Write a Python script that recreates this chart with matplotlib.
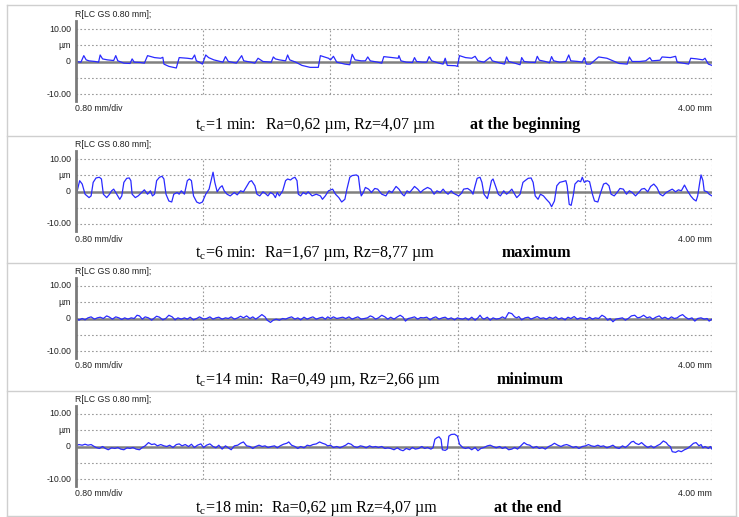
import matplotlib
matplotlib.use("Agg")
import matplotlib.pyplot as plt

plt.rcParams["mathtext.fontset"] = "custom"
plt.rcParams["mathtext.rm"] = "Liberation Serif"

# roughness profiles, position in mm / height in um
x1 = [0.000, 0.031, 0.049, 0.064, 0.082, 0.121, 0.142, 0.152, 0.167, 0.198, 0.237, 0.250, 0.263, 0.301,
      0.340, 0.353, 0.366, 0.404, 0.430, 0.450, 0.494, 0.533, 0.546, 0.553, 0.584, 0.631, 0.649, 0.700,
      0.731, 0.746, 0.757, 0.777, 0.795, 0.816, 0.834, 0.867, 0.924, 0.940, 0.958, 1.009, 1.042, 1.055,
      1.099, 1.125, 1.145, 1.176, 1.228, 1.241, 1.254, 1.279, 1.318, 1.331, 1.344, 1.382, 1.421, 1.472,
      1.524, 1.537, 1.562, 1.588, 1.601, 1.619, 1.640, 1.691, 1.722, 1.737, 1.755, 1.794, 1.820, 1.835,
      1.851, 1.897, 1.923, 1.936, 1.987, 2.026, 2.031, 2.044, 2.077, 2.116, 2.129, 2.142, 2.180, 2.206,
      2.221, 2.237, 2.283, 2.309, 2.322, 2.335, 2.386, 2.399, 2.412, 2.450, 2.489, 2.510, 2.528, 2.566,
      2.605, 2.618, 2.669, 2.695, 2.708, 2.721, 2.759, 2.793, 2.803, 2.818, 2.849, 2.888, 2.901, 2.914,
      2.952, 2.978, 2.991, 3.004, 3.042, 3.081, 3.099, 3.112, 3.158, 3.184, 3.197, 3.210, 3.235, 3.287,
      3.339, 3.377, 3.416, 3.467, 3.480, 3.498, 3.545, 3.583, 3.609, 3.622, 3.673, 3.686, 3.738, 3.771,
      3.781, 3.827, 3.853, 3.866, 3.905, 3.943, 3.956, 3.977, 4.000]
y1 = [0.0, -0.2, 1.8, 0.5, 0.2, 0.0, -0.2, 2.0, 0.8, 0.5, 0.3, 1.8, 0.2, -0.5,
      -0.6, 0.8, -0.2, -0.3, -0.5, 1.8, 1.2, 1.0, 1.3, -0.8, -1.5, -2.0, 1.2, 1.0,
      0.8, 2.0, 0.2, -0.2, -0.8, 2.0, 1.2, 0.5, -0.2, 1.5, 0.0, -0.5, 1.8, 0.2,
      -0.2, -0.5, 1.0, 0.0, -0.2, 1.4, 0.8, 0.5, 0.2, 2.0, 0.5, -0.2, -1.2, -1.8,
      -1.8, 1.8, 1.4, 1.0, 0.5, 1.6, -0.2, -0.8, -1.0, 2.2, 0.5, 0.2, 0.2, 1.4,
      0.2, -0.2, -0.5, 1.5, 1.2, 1.0, 1.8, 0.2, -0.2, -0.3, 1.2, 0.0, -0.2, -0.2,
      1.5, 0.2, -0.5, -0.8, 1.0, -1.2, -1.3, -1.5, 1.8, 1.2, 1.0, 1.6, 0.2, -0.2,
      1.3, 0.2, -0.5, -0.8, 1.4, 0.0, -0.5, -1.0, 1.2, 0.0, -0.2, -0.3, 1.6, 0.4,
      0.0, -0.4, 1.5, 0.2, -0.2, 0.0, 2.0, 0.2, 0.0, -0.2, 1.2, -0.8, -0.8, 1.4,
      1.0, 0.2, -0.6, -0.8, 1.4, 0.0, 0.0, 0.2, 1.2, 0.2, 0.4, 1.4, 1.2, 1.6,
      -0.2, -0.6, -0.8, 1.0, 0.8, 0.5, 1.0, -0.8, -1.2]

x2 = [0.000, 0.023, 0.039, 0.057, 0.082, 0.095, 0.108, 0.126, 0.147, 0.160, 0.172, 0.193, 0.211, 0.224,
      0.237, 0.250, 0.275, 0.288, 0.301, 0.319, 0.335, 0.345, 0.353, 0.373, 0.391, 0.417, 0.430, 0.450,
      0.468, 0.481, 0.494, 0.507, 0.525, 0.541, 0.553, 0.566, 0.584, 0.602, 0.615, 0.636, 0.649, 0.662,
      0.682, 0.700, 0.713, 0.726, 0.739, 0.759, 0.777, 0.795, 0.816, 0.837, 0.855, 0.862, 0.873, 0.888,
      0.906, 0.919, 0.932, 0.950, 0.970, 0.996, 1.014, 1.035, 1.053, 1.073, 1.091, 1.104, 1.125, 1.138,
      1.156, 1.176, 1.189, 1.207, 1.223, 1.241, 1.254, 1.266, 1.279, 1.300, 1.318, 1.331, 1.349, 1.362,
      1.377, 1.390, 1.398, 1.413, 1.429, 1.447, 1.460, 1.485, 1.511, 1.537, 1.550, 1.568, 1.588, 1.614,
      1.632, 1.653, 1.671, 1.691, 1.704, 1.722, 1.737, 1.763, 1.776, 1.786, 1.794, 1.807, 1.820, 1.840,
      1.858, 1.879, 1.897, 1.923, 1.949, 1.969, 1.987, 2.013, 2.031, 2.052, 2.064, 2.082, 2.098, 2.116,
      2.129, 2.149, 2.167, 2.185, 2.211, 2.232, 2.252, 2.270, 2.291, 2.309, 2.322, 2.340, 2.360, 2.373,
      2.386, 2.407, 2.425, 2.438, 2.463, 2.484, 2.497, 2.510, 2.523, 2.541, 2.553, 2.566, 2.587, 2.597,
      2.613, 2.623, 2.638, 2.656, 2.669, 2.690, 2.708, 2.721, 2.741, 2.759, 2.772, 2.793, 2.811, 2.824,
      2.844, 2.862, 2.875, 2.888, 2.906, 2.921, 2.940, 2.958, 2.978, 2.991, 3.009, 3.024, 3.042, 3.068,
      3.081, 3.089, 3.102, 3.114, 3.127, 3.138, 3.158, 3.174, 3.184, 3.197, 3.215, 3.230, 3.248, 3.261,
      3.282, 3.300, 3.318, 3.334, 3.352, 3.365, 3.385, 3.403, 3.421, 3.442, 3.462, 3.480, 3.498, 3.519,
      3.539, 3.557, 3.575, 3.596, 3.614, 3.634, 3.653, 3.673, 3.691, 3.712, 3.730, 3.750, 3.771, 3.789,
      3.807, 3.827, 3.846, 3.866, 3.884, 3.900, 3.910, 3.923, 3.931, 3.943, 3.951, 3.969, 3.982, 4.000]
y2 = [-1.35, 3.33, 2.29, -0.83, -1.88, -1.35, 2.81, 4.17, 4.38, 3.85, -0.83, -1.88, -0.83, 0.21,
      0.73, -0.31, -2.40, -1.35, 2.81, 4.06, 4.17, 3.33, -0.83, -1.88, -1.35, -0.10, 0.52, -0.83,
      0.21, -1.35, -0.83, 3.33, 4.38, 4.69, 3.85, -0.83, -2.92, -3.23, -0.83, -0.31, -0.83, 0.21,
      -0.83, 3.33, 3.85, 3.33, -1.35, -3.23, -3.65, -3.23, -0.83, 0.73, 4.38, 5.94, 2.81, -0.10,
      1.25, 1.77, 0.21, -0.83, -1.35, -0.31, -1.04, 0.21, -0.10, 1.56, 3.02, 3.33, 1.77, -0.83,
      -1.35, -0.10, -0.52, -1.35, -0.31, -0.83, -1.88, -0.31, -1.35, 0.21, 3.33, 3.85, 3.54, 4.06,
      4.38, 3.33, -0.83, -1.35, -0.31, -0.83, -0.10, -1.35, -0.83, -1.35, -2.40, -1.35, 0.21, 0.73,
      -0.83, -1.88, -3.23, -2.40, 0.73, 4.38, 4.90, 5.10, 4.69, 0.73, -1.35, -0.31, 1.25, 0.73,
      -0.31, 0.94, 0.73, -0.83, -1.35, 0.21, -0.31, 1.56, 0.73, -0.83, -1.35, 0.21, -0.31, 0.73,
      1.56, 0.73, -0.31, 0.52, 1.25, 0.73, -0.83, 0.21, -0.31, 0.73, -0.10, -0.83, 0.21, -0.52,
      -0.83, -1.35, -0.52, 0.73, 0.94, 0.21, -0.83, 1.77, 4.06, 4.38, 2.81, -0.83, -2.19, -0.31,
      3.33, 3.85, 1.77, -0.83, -1.35, 0.21, -0.83, -0.31, 0.73, -0.83, -1.88, -0.83, 2.81, 3.33,
      4.06, 4.17, 2.81, -1.35, -2.40, -0.83, -1.35, -2.40, -3.44, -4.69, -2.92, 1.77, 2.81, 3.13,
      3.33, 1.77, -3.96, -4.27, -1.35, 2.29, 3.33, 3.02, 4.38, 2.81, 3.33, 3.02, -0.83, -2.92,
      -3.23, -0.31, 2.29, 2.60, 1.77, -0.83, -1.35, -0.31, 0.94, 0.73, -0.83, 0.21, -0.31, -1.35,
      -0.31, 0.73, 0.94, -0.10, 1.56, 2.29, 1.25, -0.83, -1.35, -0.31, 0.21, 0.73, -0.10, 0.52,
      0.21, 1.98, 0.21, -1.35, -2.40, -2.92, -1.35, 2.81, 5.10, 3.33, 0.21, -0.10, -0.83, -1.35]

x3 = [0.000, 0.018, 0.039, 0.057, 0.075, 0.095, 0.116, 0.134, 0.152, 0.172, 0.193, 0.211, 0.229, 0.250,
      0.270, 0.288, 0.306, 0.327, 0.347, 0.366, 0.384, 0.399, 0.417, 0.435, 0.456, 0.476, 0.494, 0.507,
      0.525, 0.546, 0.564, 0.584, 0.605, 0.623, 0.641, 0.662, 0.682, 0.700, 0.718, 0.739, 0.759, 0.777,
      0.803, 0.821, 0.842, 0.862, 0.880, 0.898, 0.919, 0.940, 0.958, 0.976, 0.996, 1.017, 1.035, 1.053,
      1.073, 1.094, 1.112, 1.130, 1.151, 1.169, 1.189, 1.202, 1.223, 1.241, 1.259, 1.279, 1.300, 1.318,
      1.336, 1.356, 1.377, 1.395, 1.413, 1.434, 1.454, 1.472, 1.490, 1.511, 1.532, 1.550, 1.568, 1.583,
      1.601, 1.619, 1.640, 1.660, 1.678, 1.696, 1.717, 1.737, 1.755, 1.773, 1.794, 1.815, 1.833, 1.851,
      1.866, 1.884, 1.902, 1.923, 1.943, 1.961, 1.979, 2.000, 2.021, 2.039, 2.057, 2.072, 2.090, 2.108,
      2.129, 2.149, 2.167, 2.185, 2.206, 2.227, 2.245, 2.263, 2.283, 2.304, 2.322, 2.340, 2.360, 2.381,
      2.399, 2.412, 2.432, 2.450, 2.468, 2.489, 2.510, 2.528, 2.541, 2.553, 2.566, 2.587, 2.605, 2.623,
      2.643, 2.664, 2.682, 2.700, 2.721, 2.741, 2.759, 2.772, 2.785, 2.803, 2.824, 2.844, 2.862, 2.880,
      2.901, 2.921, 2.940, 2.958, 2.978, 2.999, 3.017, 3.035, 3.055, 3.076, 3.094, 3.112, 3.133, 3.153,
      3.171, 3.189, 3.210, 3.230, 3.248, 3.266, 3.287, 3.308, 3.326, 3.344, 3.359, 3.377, 3.395, 3.416,
      3.437, 3.455, 3.473, 3.493, 3.514, 3.532, 3.550, 3.570, 3.591, 3.609, 3.627, 3.647, 3.668, 3.686,
      3.704, 3.725, 3.745, 3.763, 3.781, 3.797, 3.815, 3.833, 3.853, 3.874, 3.892, 3.910, 3.931, 3.951,
      3.969, 3.982, 4.000]
y3 = [0.2, -0.5, 0.0, -0.4, 0.2, 0.5, -0.2, 0.2, 0.4, 0.0, 0.8, 0.4, -0.2, 0.5,
      0.2, -0.3, 0.2, -0.2, 0.2, 0.0, 1.0, 0.8, -0.2, 0.5, 0.2, -0.5, 0.2, 0.7,
      0.4, -0.4, 0.0, 1.0, 0.5, -0.4, 0.2, -0.2, 0.2, -0.2, 0.4, -0.4, 0.0, 0.5,
      -0.2, 0.0, 0.5, -0.2, 0.2, 0.4, -0.2, 0.2, 0.0, 0.5, -0.2, 0.2, 0.7, 0.2,
      0.8, 0.0, 0.5, -0.2, 0.5, 1.2, 0.5, -0.5, -1.2, -0.5, -0.2, -0.5, 0.0, -0.2,
      0.2, 0.5, -0.2, 0.2, -0.4, 0.4, -0.2, 0.2, 0.5, -0.2, 0.2, 0.4, -0.2, 0.5,
      0.0, 0.5, 0.0, 0.2, 0.4, 0.0, 0.5, -0.2, 0.2, 0.5, -0.2, 0.0, 0.2, 0.8,
      0.5, -0.2, 0.2, 1.0, 0.5, -0.2, 0.4, -0.2, 0.5, 1.0, 0.4, -0.8, 0.0, 0.2,
      0.5, -0.2, 0.3, 0.2, 0.4, -0.4, 0.2, 0.5, -0.2, 0.2, 0.4, -0.2, 0.2, -0.4,
      0.2, 0.0, -0.2, 0.2, -0.4, 0.4, -0.5, 0.2, 1.0, 0.2, -0.2, 0.4, -0.5, 0.2,
      -0.2, 0.0, 0.5, 0.0, 1.8, 1.5, 0.5, 0.2, 0.6, -0.4, 0.2, 0.4, -0.2, 0.2,
      0.6, 0.0, 0.2, -0.2, 0.4, 0.0, 0.5, -0.2, 0.2, -0.4, 0.4, 0.0, 0.6, -0.2,
      0.2, 0.0, -0.2, 0.4, -0.2, 0.2, 0.0, 1.0, 0.5, -0.5, 0.0, -1.0, -0.2, 0.0,
      0.2, -0.5, 0.0, 0.8, 1.0, 0.2, 0.4, 1.0, 0.2, 0.5, -0.2, 0.4, 0.8, 0.0,
      0.4, -0.2, 0.5, 0.0, 0.2, 0.8, 1.2, 0.4, -0.2, 0.2, -0.8, 0.0, 0.2, -0.2,
      0.0, -0.8, -0.2]

x4 = [0.000, 0.018, 0.039, 0.057, 0.075, 0.095, 0.108, 0.126, 0.147, 0.167, 0.185, 0.203, 0.224, 0.245,
      0.263, 0.281, 0.301, 0.322, 0.340, 0.358, 0.378, 0.399, 0.417, 0.435, 0.456, 0.476, 0.494, 0.512,
      0.533, 0.553, 0.571, 0.589, 0.610, 0.631, 0.649, 0.667, 0.687, 0.708, 0.726, 0.744, 0.764, 0.785,
      0.803, 0.821, 0.842, 0.862, 0.880, 0.898, 0.919, 0.940, 0.958, 0.976, 0.996, 1.017, 1.035, 1.053,
      1.073, 1.094, 1.112, 1.130, 1.151, 1.171, 1.189, 1.207, 1.228, 1.249, 1.266, 1.284, 1.305, 1.326,
      1.338, 1.356, 1.377, 1.395, 1.413, 1.434, 1.454, 1.472, 1.490, 1.511, 1.532, 1.550, 1.568, 1.583,
      1.601, 1.619, 1.640, 1.660, 1.678, 1.696, 1.712, 1.730, 1.748, 1.768, 1.789, 1.807, 1.825, 1.846,
      1.866, 1.884, 1.902, 1.923, 1.943, 1.961, 1.979, 2.000, 2.021, 2.039, 2.057, 2.077, 2.098, 2.116,
      2.134, 2.155, 2.175, 2.193, 2.211, 2.232, 2.245, 2.257, 2.270, 2.283, 2.296, 2.304, 2.322, 2.335,
      2.345, 2.360, 2.381, 2.399, 2.412, 2.432, 2.450, 2.468, 2.489, 2.510, 2.528, 2.546, 2.566, 2.587,
      2.605, 2.623, 2.643, 2.664, 2.682, 2.700, 2.721, 2.741, 2.759, 2.777, 2.798, 2.818, 2.836, 2.854,
      2.875, 2.896, 2.914, 2.932, 2.952, 2.973, 2.991, 3.009, 3.030, 3.050, 3.068, 3.086, 3.107, 3.127,
      3.145, 3.163, 3.184, 3.205, 3.223, 3.241, 3.261, 3.282, 3.300, 3.318, 3.339, 3.359, 3.377, 3.395,
      3.416, 3.437, 3.455, 3.473, 3.493, 3.506, 3.519, 3.539, 3.557, 3.575, 3.596, 3.617, 3.634, 3.653,
      3.673, 3.694, 3.712, 3.725, 3.738, 3.750, 3.771, 3.789, 3.807, 3.827, 3.846, 3.866, 3.884, 3.900,
      3.918, 3.931, 3.943, 3.956, 3.977, 3.990, 4.000]
y4 = [0.2, 0.6, 0.4, 0.7, 0.4, 0.6, 0.2, -0.3, -0.6, 0.0, -0.6, -1.0, -0.4, -0.6,
      -0.3, -0.8, -1.0, -0.4, -0.6, -0.3, -0.8, -1.0, -0.3, 0.2, 1.2, 0.6, 0.8, 0.2,
      0.6, 0.2, 0.0, 0.4, -0.3, 0.6, 0.8, 0.2, 0.6, 0.0, 0.7, -0.3, 0.4, 0.8,
      -0.3, 0.4, 0.8, 0.0, -0.4, 0.4, -0.8, 0.2, -0.4, -1.0, 0.2, 0.4, 1.0, 1.4,
      0.2, 0.0, -0.6, 0.0, 0.4, 0.0, 0.2, -0.3, 0.0, 0.2, -0.4, 0.2, 0.7, 1.0,
      1.4, 0.4, 0.0, -0.6, 0.0, -0.4, 0.4, 0.2, 0.6, 0.8, 1.4, 1.0, 0.7, 0.2,
      0.4, -0.3, 0.0, -0.4, 0.0, 0.4, 1.0, 0.7, 0.0, -0.3, 0.2, 0.0, -0.4, 0.2,
      -0.2, 0.0, -0.3, 0.0, -0.6, -0.4, -0.6, -1.0, -0.4, -1.0, -1.3, -0.6, -1.0, -0.3,
      -0.8, -0.6, 0.0, -0.6, -0.3, -0.8, -0.4, 2.2, 2.7, 3.0, 2.2, -1.0, -1.2, -0.8,
      3.2, 3.7, 3.8, 3.2, 0.7, -0.3, -0.6, -0.3, -1.0, -0.3, -1.3, -0.6, -0.3, 0.2,
      0.4, 0.0, -0.4, 0.0, -0.6, -0.2, -1.0, -0.8, -0.3, -0.8, 0.2, 1.2, 0.6, 0.4,
      -0.4, 0.0, -0.6, -0.3, -0.8, 0.0, 0.4, 1.0, 0.4, 0.0, 0.4, 0.6, 0.2, -0.3,
      0.0, -0.6, 0.0, 0.2, 0.6, 0.2, 0.0, 0.4, 0.0, 0.2, -0.4, 0.0, 0.4, -0.3,
      -0.6, 0.2, -0.3, 0.4, 1.4, 1.6, 1.0, 0.6, 1.2, 0.4, -0.3, 0.2, -0.4, 0.2,
      0.7, 1.7, 1.2, 0.4, 0.0, -1.6, -1.8, -1.3, -1.6, -1.0, -0.6, 0.2, 1.0, 1.2,
      0.2, 0.6, -0.4, 0.0, -0.6, 0.0, -0.8]

times = ["1", "6", "14", "18"]
ra_rz = ["Ra=0,62 \u00b5m, Rz=4,07 \u00b5m", "Ra=1,67 \u00b5m, Rz=8,77 \u00b5m",
         "Ra=0,49 \u00b5m, Rz=2,66 \u00b5m", "Ra=0,62 \u00b5m Rz=4,07 \u00b5m"]
stages = ["at the beginning", "maximum", "minimum", "at the end"]
profiles = [(x1, y1), (x2, y2), (x3, y3), (x4, y4)]

W, H = 739, 517
fig = plt.figure(figsize=(W / 100, H / 100), dpi=100)

# layout in pixels (top-left origin)
top10 = [29, 159, 286, 414]   # pixel row of +10 um in each panel
px_per_um = 3.25
left_px, right_px = 76, 712
stage_x = [470, 502, 497, 494]
ra_x = [266, 265, 271, 272]
frame_rows = [5, 136, 263, 391, 516]


def fx(x):
    return x / W


def fy(y):
    return 1 - y / H


small = dict(family="Liberation Sans", fontsize=6.3, color="#222222")
serif = dict(family="Liberation Serif", fontsize=11.5, color="black")

# panel frame
for r in frame_rows:
    fig.add_artist(plt.Line2D([fx(7), fx(736)], [fy(r), fy(r)], color="#cfcfcf", lw=1))
for c in (7, 736):
    fig.add_artist(plt.Line2D([fx(c), fx(c)], [fy(5), fy(516)], color="#cfcfcf", lw=1))

ymin, ymax = -12.2, 12.4
for i, (px, py) in enumerate(profiles):
    y10 = top10[i]
    ax_top = y10 - (ymax - 10) * px_per_um
    ax_h = (ymax - ymin) * px_per_um
    ax = fig.add_axes([fx(left_px), fy(ax_top + ax_h), (right_px - left_px) / W, ax_h / H])
    ax.set_xlim(0, 4)
    ax.set_ylim(ymin, ymax)
    ax.patch.set_alpha(0)
    for s in ("top", "right", "bottom"):
        ax.spines[s].set_visible(False)
    ax.spines["left"].set_color("#7a7a7a")
    ax.spines["left"].set_linewidth(2)
    ax.set_xticks([])
    ax.set_yticks([])

    grid = dict(color="#9a9a9a", lw=0.8, linestyle=(0, (1.5, 2)))
    for g in (10, 5, -5, -10):
        ax.hlines(g, 0, 4, **grid)
    for g in (0.8, 1.6, 2.4, 3.2, 4.0):
        ax.vlines(g, -10, 10, **grid)
    ax.hlines(0, 0, 4, color="#808080", lw=1.8)

    ax.plot(px, py, color="#2a2aff", lw=0.9)

    # tick labels and annotations
    for val, lab in ((10, "10.00"), (5, "\u00b5m"), (0, "0"), (-10, "-10.00")):
        fig.text(fx(71), fy(y10 + (10 - val) * px_per_um), lab, ha="right", va="center", **small)
    fig.text(fx(75), fy(y10 - 14.5), "R[LC GS 0.80 mm];", ha="left", va="center", **small)
    fig.text(fx(75), fy(y10 + 80), "0.80 mm/div", ha="left", va="center", **small)
    fig.text(fx(712), fy(y10 + 80), "4.00 mm", ha="right", va="center", **small)

    cy = y10 + (96 if i == 0 else 94)
    fig.text(fx(195), fy(cy), "t$_{\\mathrm{c}}$=" + times[i] + " min:", ha="left", va="center", **serif)
    fig.text(fx(ra_x[i]), fy(cy), ra_rz[i], ha="left", va="center", **serif)
    fig.text(fx(stage_x[i]), fy(cy), stages[i], ha="left", va="center", fontweight="bold", **serif)

fig.savefig("out.png", dpi=100)
